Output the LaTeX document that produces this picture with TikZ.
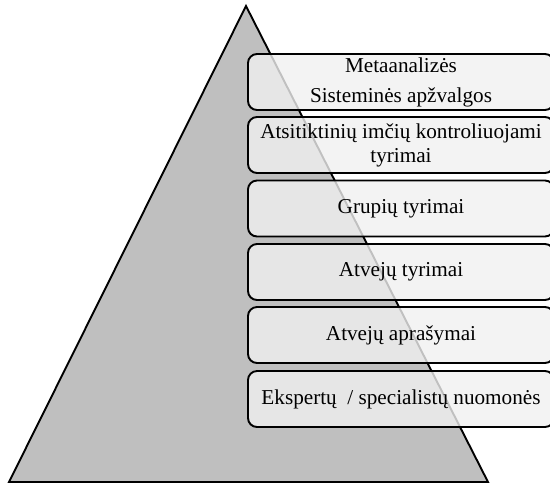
\documentclass[tikz,border=0pt]{standalone}
\usepackage{fontspec}
\setmainfont{Liberation Serif}
\definecolor{pyramidgray}{RGB}{191,191,191}
\definecolor{levelfill}{RGB}{240,240,240}
\begin{document}
\begin{tikzpicture}[x=0.5pt,y=-0.5pt,
  pyramid/.style={draw=black, line width=0.95pt, fill=pyramidgray, line join=miter},
  level/.style={draw=black, line width=0.95pt, rounded corners=4.5pt,
    fill=levelfill, fill opacity=0.8, text opacity=1,
    minimum width=153pt, minimum height=28pt, inner sep=0pt,
    align=center, font=\fontsize{10.6}{12.8}\selectfont}]
\useasboundingbox (0,0) rectangle (550,484);
\clip (0,0) rectangle (550,484);
% evidence pyramid
\coordinate (apex) at (246,6);
\coordinate (bl) at (9,482);
\coordinate (br) at (488,482);
\draw[pyramid] (bl) -- (apex) -- (br) -- cycle;
% levels of evidence
\node[level, font=\fontsize{10.6}{13}\selectfont] (l1) at (401,82) {Metaanalizės\\[2pt]Sisteminės apžvalgos};
\node[level, font=\fontsize{10.6}{12}\selectfont] (l2) at (401,145) {Atsitiktinių imčių kontroliuojami\\tyrimai};
\node[level] (l3) at (401,208.5) {Grupių tyrimai};
\node[level] (l4) at (401,272) {Atvejų tyrimai};
\node[level] (l5) at (401,335) {Atvejų aprašymai};
\node[level] (l6) at (401,399) {Ekspertų\ \ / specialistų nuomonės};
\end{tikzpicture}
\end{document}
